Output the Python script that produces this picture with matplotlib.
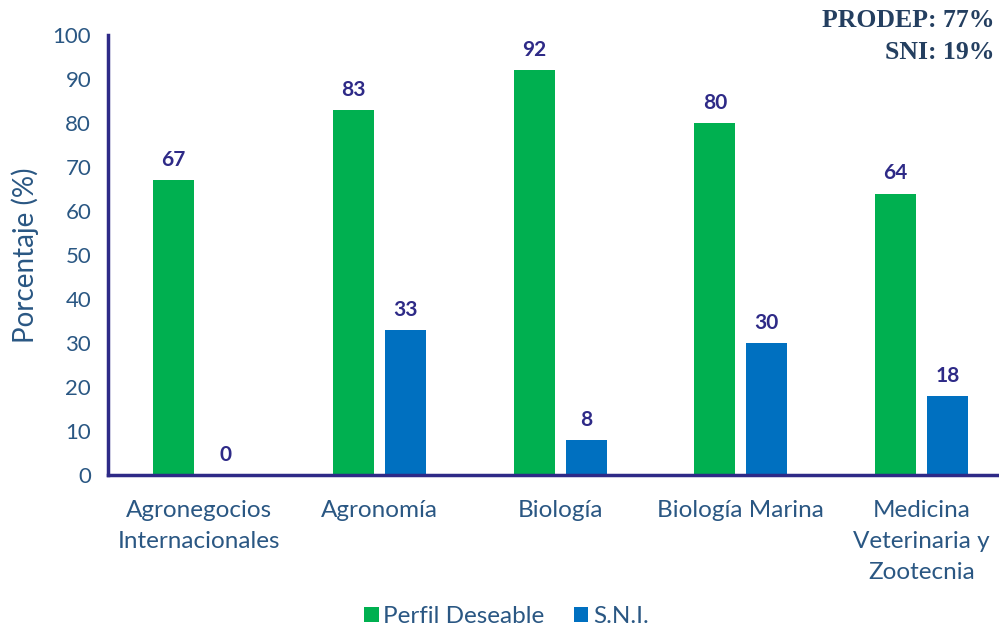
import numpy as np
import matplotlib
matplotlib.use("Agg")
import matplotlib.pyplot as plt

categories = ["Agronegocios\nInternacionales", "Agronomía", "Biología", "Biología Marina",
              "Medicina\nVeterinaria y\nZootecnia"]
perfil = [67, 83, 92, 80, 64]
sni = [0, 33, 8, 30, 18]
yticks = list(range(0, 101, 10))

GREEN = "#00B050"
BLUE = "#0070C0"
AXIS = "#2E2A87"
TICK = "#2A5783"
LABEL = "#2E2A87"

plt.rcParams['font.family'] = ['Lato', 'DejaVu Sans']

fig = plt.figure(figsize=(9.99, 6.3), dpi=100)
ax = fig.add_axes([0.108, 0.246, 0.892, 0.698])

x = np.arange(len(categories))
w = 0.226
off = 0.144
b1 = ax.bar(x - off, perfil, w, color=GREEN, label="Perfil Deseable")
b2 = ax.bar(x + off, sni, w, color=BLUE, label="S.N.I.")

for bars, vals in ((b1, perfil), (b2, sni)):
    for r, v in zip(bars, vals):
        ax.text(r.get_x() + r.get_width() / 2, v + 2.3, str(v), ha="center", va="bottom",
                fontsize=15, fontweight="bold", color=LABEL)

ax.set_xlim(-0.506, 4.43)
ax.set_ylim(0, 100)
ax.set_yticks(yticks)
ax.set_xticks(x)
ax.set_xticklabels(categories, fontsize=17.5, color=TICK, linespacing=1.58)
ax.tick_params(axis="y", labelsize=16, labelcolor=TICK, length=0, pad=12)
ax.tick_params(axis="x", length=0, pad=18)
ax.set_ylabel("Porcentaje (%)", fontsize=20, color=TICK, labelpad=10)

for s in ("top", "right"):
    ax.spines[s].set_visible(False)
for s in ("left", "bottom"):
    ax.spines[s].set_color(AXIS)
    ax.spines[s].set_linewidth(2.5)

fig.text(0.995, 0.985, "PRODEP: 77%\nSNI: 19%", ha="right", va="top", fontsize=18.5,
         fontweight="bold", color="#243F60", family="Liberation Serif", linespacing=1.45)

fig.legend(loc="lower center", bbox_to_anchor=(0.507, -0.03), ncol=2, frameon=False,
           fontsize=17.5, handlelength=0.6, handleheight=0.6, columnspacing=1.2,
           handletextpad=0.2, labelcolor=TICK)

fig.savefig("out.png", dpi=100)
